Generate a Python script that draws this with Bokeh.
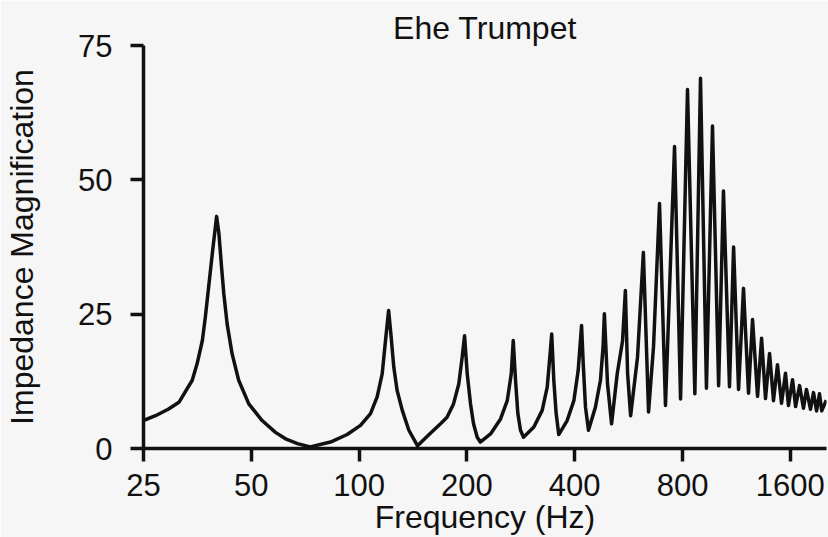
from bokeh.plotting import figure
from bokeh.models import FixedTicker, Title
from bokeh.embed import file_html
from bokeh.resources import INLINE

# ---- data ----
freq_hz = [
    25, 27.0, 29.3, 31.4, 34.2, 35.3, 36.5, 37.2, 38.0, 38.9, 40.0,
    40.6, 41.3, 41.9, 42.8, 44.2, 46.1, 49.2, 53.6, 58.4, 62.3, 67.3, 73,
    83.2, 92.6, 100.9, 107.6, 112.3, 116, 118.5, 120.9,
    122.9, 125, 127.7, 132, 137.7, 145.6,
    156.3, 168.8, 176, 183.5, 189.8, 194, 197,
    200.4, 204.7, 208.7, 213.7, 218,
    232.8, 248.3, 259.2, 266, 269.4, 273.4, 277.5, 282.3, 287.8,
    307.6, 324.5, 335.2, 340.8, 345, 349.7, 355, 361,
    381, 397.8, 409, 418, 422.5, 428.7, 437,
    457, 472, 480, 484, 494, 507,
    525.7, 544, 554, 562, 573,
    599, 622, 643,
    664, 690, 717,
    760, 790,
    826, 866,
    898, 933,
    970, 1009,
    1041, 1082,
    1111, 1147,
    1184, 1223,
    1255, 1296,
    1330, 1364,
    1400, 1436,
    1473, 1512,
    1551, 1581,
    1623, 1655,
    1698, 1741,
    1775, 1822,
    1857, 1894,
    1930, 1958,
    2016,
]
magnification = [
    5.2, 6.1, 7.3, 8.6, 12.7, 15.8, 20.1, 24.4, 30.0, 36.2, 43.2,
    40.0, 33.7, 28.8, 23.2, 17.6, 12.7, 8.3, 5.2, 3.0, 1.8, 0.9, 0.3,
    1.2, 2.6, 4.3, 6.5, 9.6, 13.9, 20.1, 25.7,
    20.7, 15.1, 10.8, 7.1, 3.4, 0.5,
    2.5, 4.6, 5.8, 8.3, 12.0, 17.0, 21.0,
    13.9, 8.3, 4.6, 2.1, 1.2,
    2.7, 5.5, 8.9, 13.9, 20.1, 12.7, 6.5, 3.4, 2.1,
    4.0, 7.1, 11.4, 17.0, 21.3, 12.7, 6.5, 2.6,
    5.2, 8.9, 14.5, 22.9, 15.8, 7.7, 3.4,
    7.7, 12.7, 18.9, 25.1, 12.0, 4.6,
    13.9, 20.0, 29.4, 14.0, 6.1,
    17.0, 36.5, 6.8,
    19.0, 45.6, 8.0,
    56.2, 9.2,
    66.8, 10.2,
    68.9, 11.2,
    60.0, 11.7,
    47.9, 11.5,
    37.5, 11.0,
    29.8, 10.3,
    24.0, 9.7,
    20.5, 9.3,
    17.7, 8.9,
    15.6, 8.4,
    14.0, 8.0,
    12.8, 7.8,
    11.7, 7.5,
    11.0, 7.3,
    10.4, 7.0,
    10.2, 7.0,
    9.0,
]
x_ticks = [25, 50, 100, 200, 400, 800, 1600]
x_tick_labels = ["25", "50", "100", "200", "400", "800", "1600"]
y_ticks = [0, 25, 50, 75]

title_text = "Ehe Trumpet"
x_label_text = "Frequency (Hz)"
y_label_text = "Impedance Magnification"

# ---- styling ----
FONT = "Liberation Sans"
INK = "#111111"
BG = "#f6f6f6"

X_MIN, X_MAX = 25, 2019
Y_MIN, Y_MAX = 0, 75

p = figure(
    width=828, height=537,
    x_axis_type="log",
    x_range=(X_MIN, X_MAX), y_range=(Y_MIN, Y_MAX),
    output_backend="svg", toolbar_location=None,
    title=None,
    min_border_left=143, min_border_right=2,
    min_border_top=45, min_border_bottom=89,
)
p.background_fill_color = BG
p.border_fill_color = BG
p.outline_line_color = None
p.xgrid.visible = False
p.ygrid.visible = False

p.line(freq_hz, magnification, line_color=INK, line_width=3.5, line_join="round")

for ax in (p.xaxis[0], p.yaxis[0]):
    ax.axis_line_color = INK
    ax.axis_line_width = 3.5
    ax.major_tick_line_color = INK
    ax.major_tick_line_width = 3.5
    ax.major_tick_in = 0
    ax.minor_tick_line_color = None
    ax.major_label_text_font = FONT
    ax.major_label_text_font_size = "31px"
    ax.major_label_text_color = INK
    ax.axis_label_text_font = FONT
    ax.axis_label_text_font_size = "32px"
    ax.axis_label_text_font_style = "normal"
    ax.axis_label_text_color = INK

p.xaxis.ticker = FixedTicker(ticks=x_ticks, minor_ticks=[])
p.xaxis.major_label_overrides = {t: l for t, l in zip(x_ticks, x_tick_labels)}
p.xaxis.major_tick_out = 13
p.xaxis.major_label_standoff = 12
p.xaxis.axis_label = x_label_text
p.xaxis.axis_label_standoff = 0

p.yaxis.ticker = FixedTicker(ticks=y_ticks, minor_ticks=[])
p.yaxis.major_tick_out = 13
p.yaxis.major_label_standoff = 18
p.yaxis.axis_label = y_label_text
p.yaxis.axis_label_standoff = 35

p.add_layout(Title(
    text=title_text, align="center", text_font=FONT, text_font_size="32px",
    text_font_style="normal", text_color=INK, standoff=0,
), "above")

open("out.html", "w").write(file_html(p, INLINE))
